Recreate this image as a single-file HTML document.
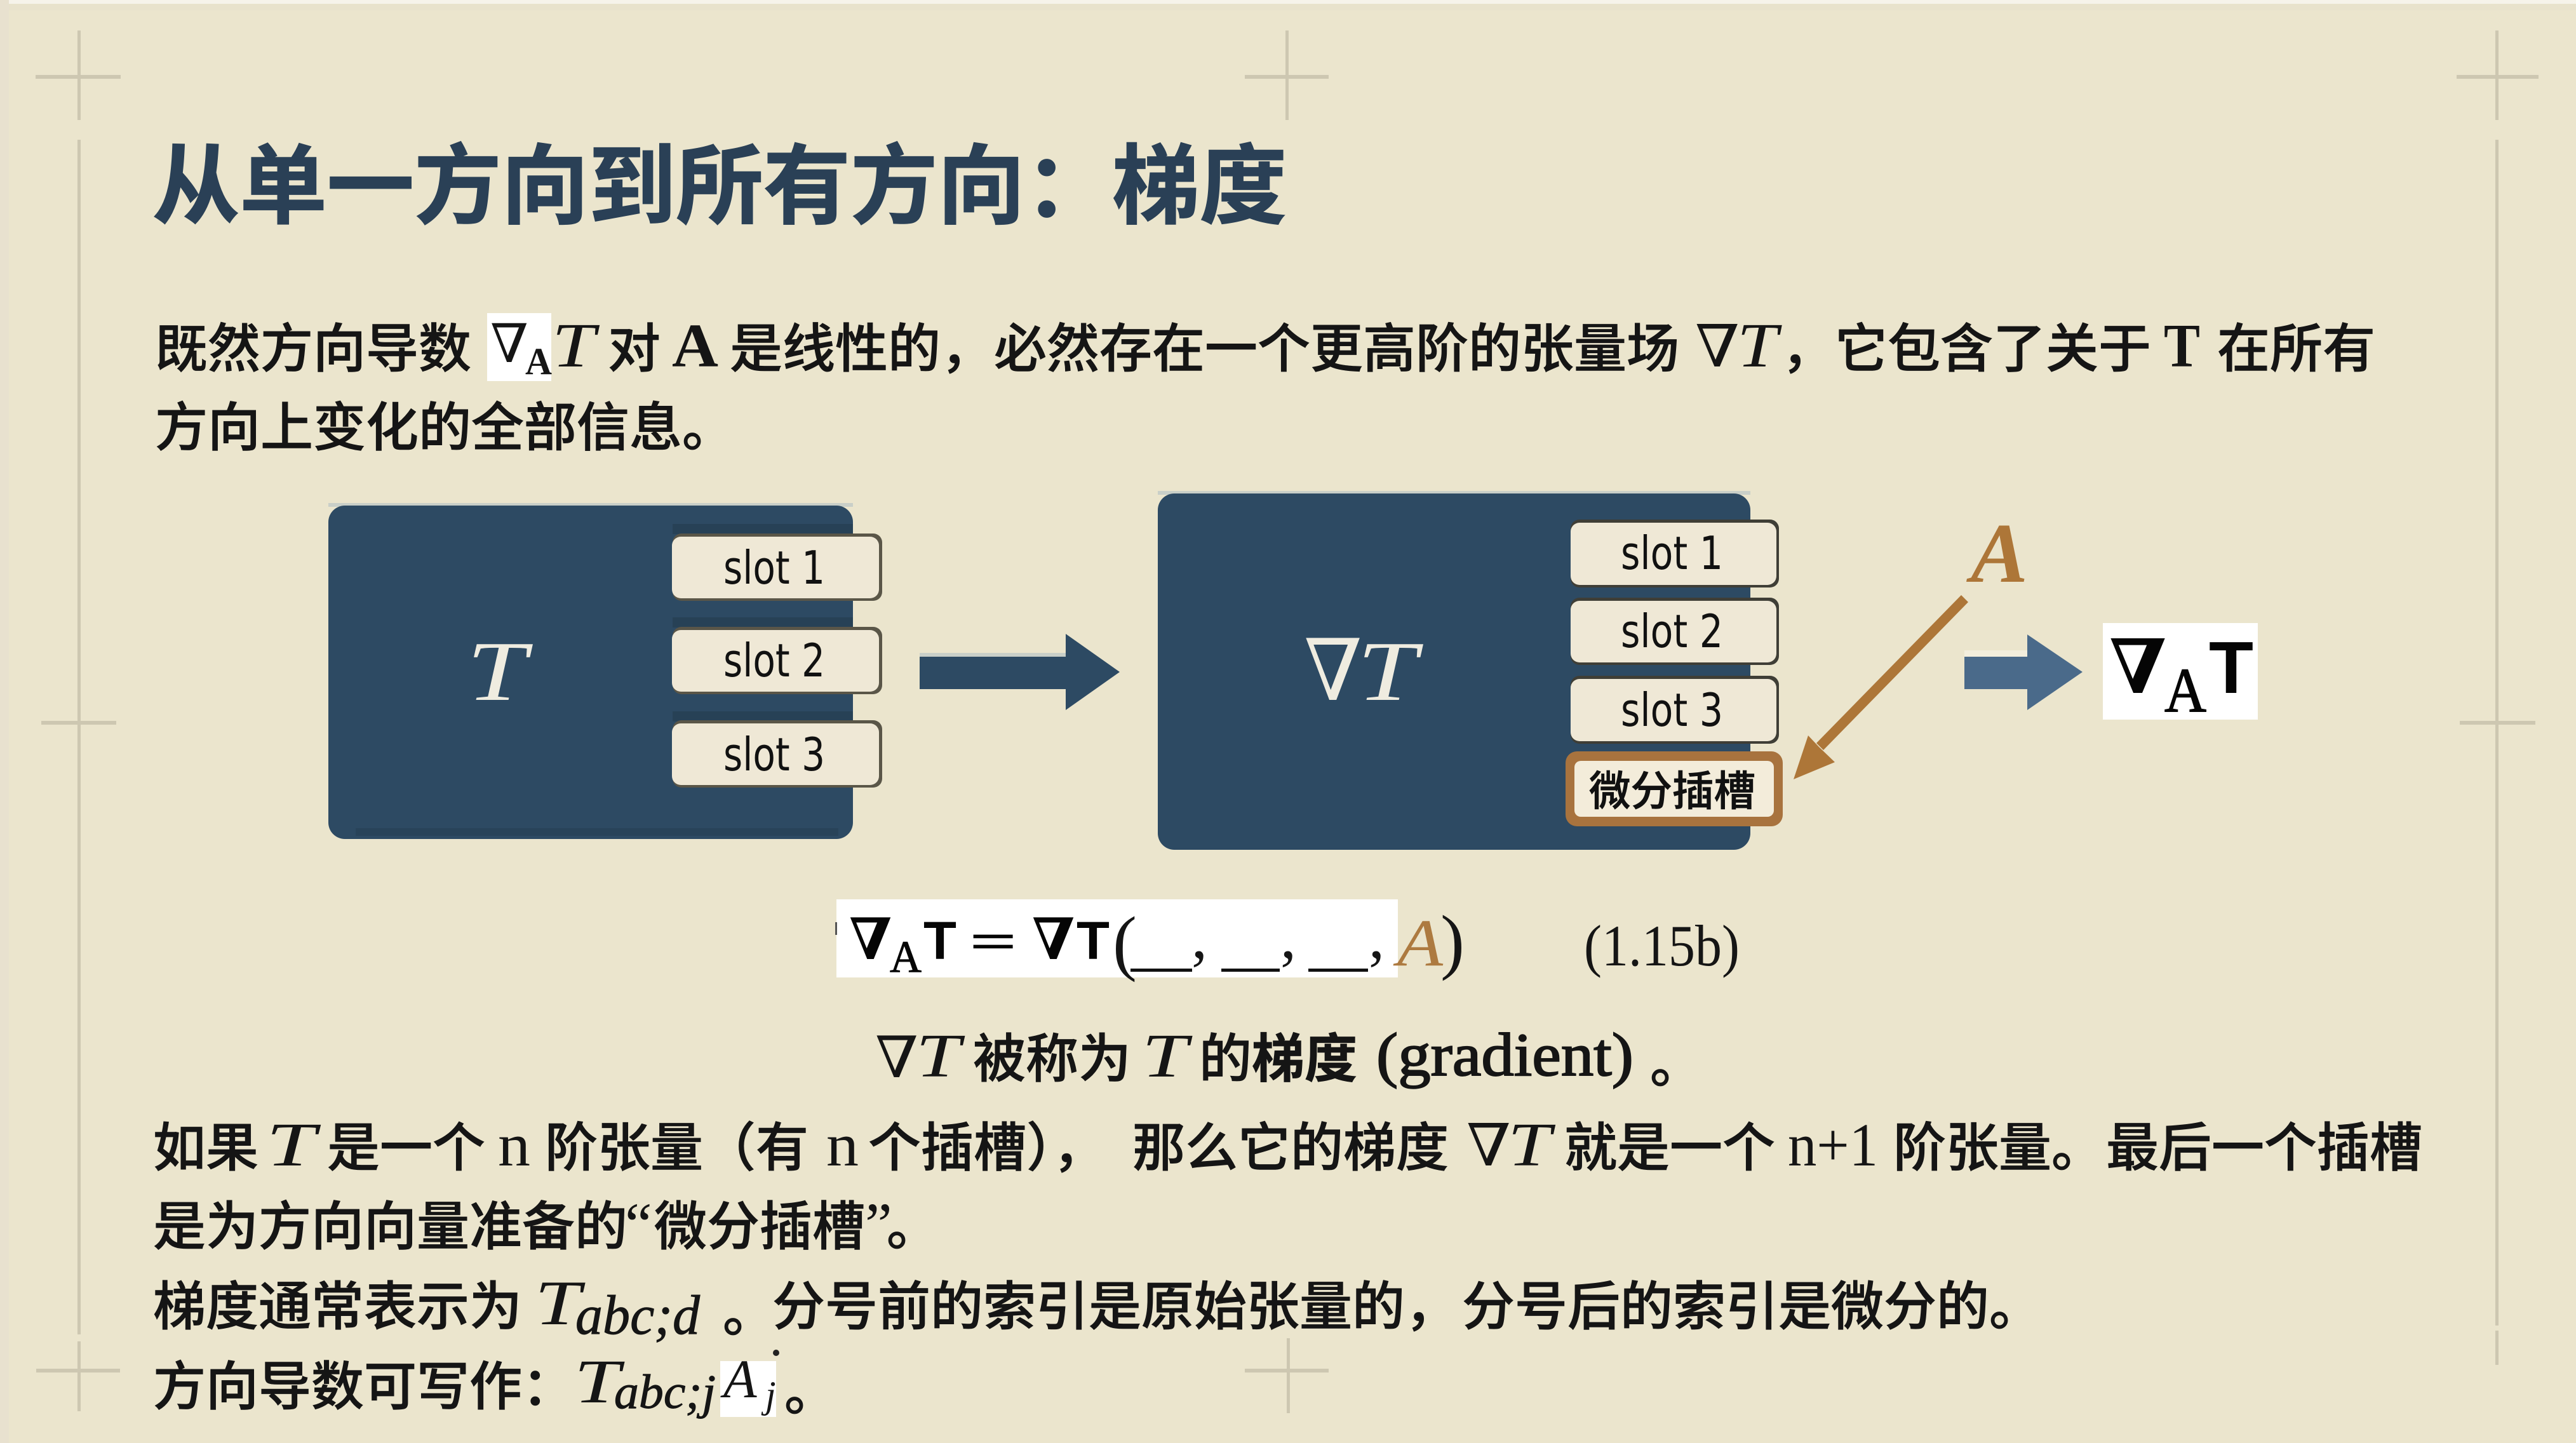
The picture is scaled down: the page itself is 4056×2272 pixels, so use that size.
<!DOCTYPE html>
<html lang="zh"><head><meta charset="utf-8"><title>从单一方向到所有方向：梯度</title>
<style>
html,body{margin:0;padding:0;background:#ebe5cd;width:4056px;height:2272px;overflow:hidden}
svg{display:block}
text{white-space:pre}
.c{font-family:"Liberation Sans","Noto Sans CJK SC",sans-serif;font-size:83px;fill:#151515;stroke:#151515;stroke-width:.8px;font-weight:500}
.s{font-family:"Liberation Serif","DejaVu Serif",serif;font-size:96px;fill:#151515}
.i{font-style:italic}
.b{font-weight:bold}
.slot{font-family:"DejaVu Sans","Liberation Sans",sans-serif;font-size:72px;fill:#111}
.m{font-family:"Liberation Sans","DejaVu Sans",sans-serif;font-weight:bold;fill:#050505}
.n{font-family:"DejaVu Serif","DejaVu Sans",serif;font-weight:bold;fill:#050505}
</style></head><body>
<svg xmlns="http://www.w3.org/2000/svg" width="4056" height="2272" viewBox="0 0 4056 2272">
<rect width="4056" height="2272" fill="#ebe5cd"/>
<rect width="4056" height="6" fill="#f6f3ea"/>
<rect y="6" width="4056" height="10" fill="#e8e2cc"/>
<rect x="0" y="0" width="14" height="2272" fill="#e8e1cf"/>
<g fill="#cdc7b1">
<rect x="122" y="48" width="5" height="141"/><rect x="122" y="220" width="5" height="1881"/><rect x="122" y="2112" width="5" height="110"/>
<rect x="56" y="118" width="134" height="6"/><rect x="65" y="1135" width="118" height="6"/><rect x="57" y="2155" width="132" height="6"/>
<rect x="2024" y="48" width="5" height="141"/><rect x="1960" y="118" width="132" height="6"/>
<rect x="2026" y="2107" width="5" height="118"/><rect x="1960" y="2155" width="132" height="6"/>
<rect x="3929" y="48" width="5" height="141"/><rect x="3929" y="220" width="5" height="1867"/><rect x="3929" y="2095" width="5" height="54"/>
<rect x="3868" y="118" width="129" height="6"/><rect x="3873" y="1135" width="119" height="6"/>
</g>

<text x="240" y="341" font-family="Liberation Sans,Noto Sans CJK SC,sans-serif" font-size="137" font-weight="bold" fill="#2a4056" stroke="#2a4056" stroke-width="1.5" textLength="1786" lengthAdjust="spacingAndGlyphs">从单一方向到所有方向：梯度</text>

<rect x="767" y="493" width="101" height="107" fill="#fff"/>
<text class="c" x="244" y="578">既然方向导数</text>
<text class="s" x="772" y="570" style="font-size:84px" textLength="60" lengthAdjust="spacingAndGlyphs">∇</text>
<text class="s b" x="827" y="589" style="font-size:60px" textLength="42" lengthAdjust="spacingAndGlyphs">A</text>
<text class="s i" x="869" y="577" style="font-size:100px" textLength="68" lengthAdjust="spacingAndGlyphs">T</text>
<text class="c" x="957" y="578">对</text>
<text class="s b" x="1058" y="577" style="font-size:98px" textLength="73" lengthAdjust="spacingAndGlyphs">A</text>
<text class="c" x="1149" y="578">是线性的，</text>
<text class="c" x="1565" y="578">必然存在一个更高阶的张量场</text>
<text class="s" x="2669" y="577" style="font-size:92px" textLength="70" lengthAdjust="spacingAndGlyphs">∇</text>
<text class="s i" x="2735" y="577" style="font-size:100px" textLength="64" lengthAdjust="spacingAndGlyphs">T</text>
<text class="c" x="2805" y="578">，</text>
<text class="c" x="2889" y="578">它包含了关于</text>
<text class="s b" x="3407" y="577" style="font-size:98px" textLength="57" lengthAdjust="spacingAndGlyphs">T</text>
<text class="c" x="3491" y="578">在所有</text>
<text class="c" x="244" y="702">方向上变化的全部信息。</text>

<!-- T box -->
<rect x="517" y="792" width="826" height="6" fill="#c9cfc8"/>
<rect x="517" y="796" width="826" height="525" rx="26" fill="#2d4a63"/>
<rect x="560" y="1304" width="760" height="12" fill="#284359"/>
<rect x="1059" y="825" width="284" height="16" fill="#274156"/>
<rect x="1059" y="972" width="284" height="16" fill="#274156"/>
<rect x="1059" y="1120" width="284" height="16" fill="#274156"/>
<text x="735" y="1102" font-family="Liberation Serif,serif" font-style="italic" font-size="134" fill="#efece0" textLength="94" lengthAdjust="spacingAndGlyphs">T</text>
<g>
<rect x="1059" y="840" width="330" height="106" rx="14" fill="#5a5648"/>
<rect x="1058" y="845" width="326" height="97" rx="14" fill="#efe8d6"/>
<rect x="1059" y="987" width="330" height="106" rx="14" fill="#5a5648"/>
<rect x="1058" y="992" width="326" height="97" rx="14" fill="#efe8d6"/>
<rect x="1059" y="1134" width="330" height="106" rx="14" fill="#5a5648"/>
<rect x="1058" y="1139" width="326" height="97" rx="14" fill="#efe8d6"/>
</g>
<text class="slot" x="1139" y="919" textLength="160" lengthAdjust="spacingAndGlyphs">slot 1</text>
<text class="slot" x="1139" y="1065" textLength="160" lengthAdjust="spacingAndGlyphs">slot 2</text>
<text class="slot" x="1139" y="1213" textLength="160" lengthAdjust="spacingAndGlyphs">slot 3</text>

<!-- big arrow -->
<rect x="1448" y="1028" width="232" height="6" fill="#c9cfc8"/>
<polygon points="1448,1034 1678,1034 1678,998 1763,1058 1678,1118 1678,1085 1448,1085" fill="#2d4a63"/>

<!-- grad T box -->
<rect x="1823" y="773" width="933" height="6" fill="#c9cfc8"/>
<rect x="1823" y="777" width="933" height="561" rx="26" fill="#2d4a63"/>
<text x="2053" y="1102" font-family="Liberation Serif,DejaVu Serif,serif" font-size="134" fill="#efece0" textLength="92" lengthAdjust="spacingAndGlyphs">∇</text>
<text x="2137" y="1102" font-family="Liberation Serif,serif" font-style="italic" font-size="134" fill="#efece0" textLength="94" lengthAdjust="spacingAndGlyphs">T</text>
<g>
<rect x="2473" y="818" width="328" height="107" rx="14" fill="#3f3e36"/>
<rect x="2473" y="823" width="324" height="98" rx="14" fill="#efe8d6"/>
<rect x="2473" y="941" width="328" height="106" rx="14" fill="#3f3e36"/>
<rect x="2473" y="946" width="324" height="97" rx="14" fill="#efe8d6"/>
<rect x="2473" y="1064" width="328" height="107" rx="14" fill="#3f3e36"/>
<rect x="2473" y="1069" width="324" height="98" rx="14" fill="#efe8d6"/>
<rect x="2465" y="1183" width="342" height="118" rx="18" fill="#a8733e"/>
<rect x="2479" y="1198" width="314" height="88" rx="10" fill="#f3ecda"/>
</g>
<text class="slot" x="2552" y="896" textLength="161" lengthAdjust="spacingAndGlyphs">slot 1</text>
<text class="slot" x="2552" y="1019" textLength="161" lengthAdjust="spacingAndGlyphs">slot 2</text>
<text class="slot" x="2552" y="1143" textLength="161" lengthAdjust="spacingAndGlyphs">slot 3</text>
<text x="2502" y="1268" font-family="Liberation Sans,Noto Sans CJK SC,sans-serif" font-size="65" font-weight="500" fill="#111" stroke="#111" stroke-width=".8" textLength="262" lengthAdjust="spacingAndGlyphs">微分插槽</text>

<!-- A and orange arrow -->
<text x="3103" y="916" font-family="Liberation Serif,serif" font-style="italic" font-weight="bold" font-size="134" fill="#ad7638" textLength="90" lengthAdjust="spacingAndGlyphs">A</text>
<polygon points="3088,937 3099,948 2871,1181 2860,1170" fill="#ad7638"/>
<polygon points="2824,1227 2847,1158 2864,1176 2889,1200" fill="#ad7638"/>

<!-- second arrow -->
<rect x="3093" y="1024" width="99" height="10" fill="#f3eedd"/>
<polygon points="3093,1034 3192,1034 3192,999 3279,1058 3192,1118 3192,1085 3093,1085" fill="#4a6a8a"/>

<!-- white ∇A T -->
<rect x="3311" y="981" width="244" height="152" fill="#fff"/>
<text class="n" x="3321" y="1091" font-size="118" textLength="90" lengthAdjust="spacingAndGlyphs">∇</text>
<text class="s" x="3408" y="1120" style="font-size:100px;fill:#050505;stroke:#050505;stroke-width:1.5px" textLength="66" lengthAdjust="spacingAndGlyphs">A</text>
<text class="m" x="3478" y="1091" font-size="116" textLength="70" lengthAdjust="spacingAndGlyphs">T</text>

<!-- equation -->
<rect x="1317" y="1416" width="884" height="123" fill="#fff"/>
<rect x="1315" y="1452" width="3" height="20" fill="#555"/>
<text class="n" x="1337" y="1510" font-size="90" textLength="67" lengthAdjust="spacingAndGlyphs">∇</text>
<text class="s" x="1401" y="1530" style="font-size:71px;fill:#050505;stroke:#050505;stroke-width:1px" textLength="50" lengthAdjust="spacingAndGlyphs">A</text>
<text class="m" x="1454" y="1510" font-size="84" textLength="52" lengthAdjust="spacingAndGlyphs">T</text>
<text x="1526" y="1509" font-family="Liberation Serif,serif" font-weight="bold" font-size="80" fill="#050505" textLength="76" lengthAdjust="spacingAndGlyphs">=</text>
<text class="n" x="1625" y="1510" font-size="90" textLength="67" lengthAdjust="spacingAndGlyphs">∇</text>
<text class="m" x="1695" y="1510" font-size="84" textLength="52" lengthAdjust="spacingAndGlyphs">T</text>
<text class="s" x="1752" y="1522" style="font-size:114px;font-weight:400">(</text>
<g fill="#111"><rect x="1780" y="1525" width="97" height="5"/><rect x="1923" y="1525" width="92" height="5"/><rect x="2060" y="1525" width="94" height="5"/></g>
<text class="s" x="1876" y="1508" style="font-size:100px">,</text><text class="s" x="2016" y="1508" style="font-size:100px">,</text><text class="s" x="2155" y="1508" style="font-size:100px">,</text>
<text x="2200" y="1520" font-family="Liberation Serif,serif" font-style="italic" font-size="106" fill="#ad7a40" textLength="72" lengthAdjust="spacingAndGlyphs">A</text>
<text class="s" x="2268" y="1520" style="font-size:114px">)</text>
<text class="s" x="2494" y="1520" style="font-size:92px" textLength="245" lengthAdjust="spacingAndGlyphs">(1.15b)</text>

<!-- gradient line -->
<text class="s" x="1378" y="1696" style="font-size:90px" textLength="68" lengthAdjust="spacingAndGlyphs">∇</text>
<text class="s i" x="1442" y="1695" style="font-size:98px" textLength="70" lengthAdjust="spacingAndGlyphs">T</text>
<text class="c" x="1532" y="1696">被称为</text>
<text class="s i" x="1798" y="1695" style="font-size:98px" textLength="72" lengthAdjust="spacingAndGlyphs">T</text>
<text class="c" x="1888" y="1696">的</text>
<text class="c" x="1971" y="1696" style="font-weight:700">梯度</text>
<text class="s" x="2167" y="1693" textLength="405" lengthAdjust="spacingAndGlyphs" style="stroke:#151515;stroke-width:2px">(gradient)</text>
<text class="c" x="2598" y="1704">。</text>

<!-- paragraph -->
<text class="c" x="241" y="1836">如果</text>
<text class="s i" x="419" y="1835" style="font-size:98px" textLength="78" lengthAdjust="spacingAndGlyphs">T</text>
<text class="c" x="515" y="1836">是一个</text>
<text class="s" x="784" y="1835" textLength="51" lengthAdjust="spacingAndGlyphs">n</text>
<text class="c" x="858" y="1836">阶张量（有</text>
<text class="s" x="1301" y="1835" textLength="51" lengthAdjust="spacingAndGlyphs">n</text>
<text class="c" x="1367" y="1836">个插槽），</text>
<text class="c" x="1783" y="1836">那么它的梯度</text>
<text class="s" x="2309" y="1835" style="font-size:92px" textLength="70" lengthAdjust="spacingAndGlyphs">∇</text>
<text class="s i" x="2374" y="1835" style="font-size:98px" textLength="68" lengthAdjust="spacingAndGlyphs">T</text>
<text class="c" x="2463" y="1836">就是一个</text>
<text class="s" x="2815" y="1835" textLength="142" lengthAdjust="spacingAndGlyphs">n+1</text>
<text class="c" x="2981" y="1836">阶张量。</text>
<text class="c" x="3316" y="1836">最后一个插槽</text>

<text class="c" x="241" y="1960">是为方向向量准备的</text>
<text class="s" x="984" y="1960">“</text>
<text class="c" x="1030" y="1960">微分插槽</text>
<text class="s" x="1362" y="1960">”</text>
<text class="c" x="1396" y="1960">。</text>

<text class="c" x="241" y="2086">梯度通常表示为</text>
<text class="s i" x="842" y="2085" textLength="72" lengthAdjust="spacingAndGlyphs" style="font-size:100px">T</text>
<text class="s i" x="906" y="2100" textLength="196" lengthAdjust="spacingAndGlyphs" style="font-size:88px;stroke:#151515;stroke-width:1px">abc;d</text>
<text class="c" x="1138" y="2096">。</text>
<text class="c" x="1216" y="2086">分号前的索引是原始张量的，</text>
<text class="c" x="2302" y="2086">分号后的索引是微分的。</text>

<text class="c" x="241" y="2212">方向导数可写作：</text>
<text class="s i" x="904" y="2208" textLength="72" lengthAdjust="spacingAndGlyphs" style="font-size:98px">T</text>
<text class="s i" x="967" y="2217" textLength="160" lengthAdjust="spacingAndGlyphs" style="font-size:76px;stroke:#151515;stroke-width:1px">abc;j</text>
<rect x="1134" y="2143" width="88" height="88" fill="#fff"/>
<text class="s i" x="1139" y="2200" style="font-size:86px">A</text>
<text class="s i" x="1205" y="2216" style="font-size:60px">j</text>
<circle cx="1222" cy="2130" r="5" fill="#222"/>
<text class="c" x="1235" y="2220">。</text>
</svg>
</body></html>
